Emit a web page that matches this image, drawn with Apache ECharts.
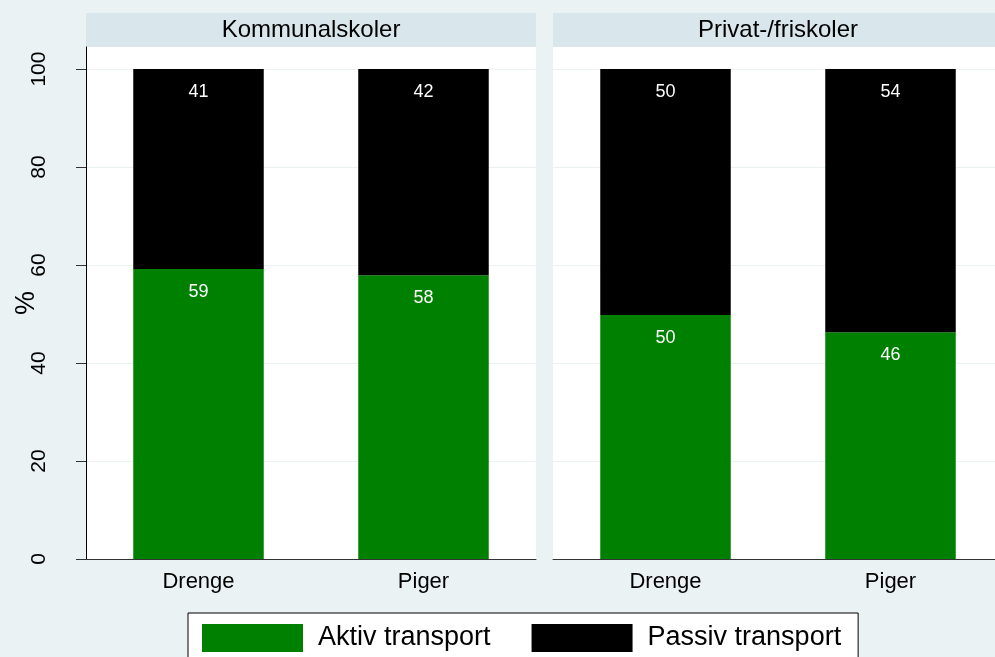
<!DOCTYPE html>
<html>
<head>
<meta charset="utf-8">
<script src="https://cdn.jsdelivr.net/npm/echarts@6/dist/echarts.min.js"></script>
<style>
html,body{margin:0;padding:0;background:#EAF2F3;}
#c{width:995px;height:657px;}
</style>
</head>
<body>
<div id="c"></div>
<script>
const categories = ['Drenge', 'Piger'];
const panels = ['Kommunalskoler', 'Privat-/friskoler'];
const seriesNames = ['Aktiv transport', 'Passiv transport'];
const aktivKommunal = [59.2, 57.9];
const passivKommunal = [40.8, 42.1];
const aktivPrivat = [49.8, 46.3];
const passivPrivat = [50.2, 53.7];
const yTicks = [0, 20, 40, 60, 80, 100];

const FONT = 'Liberation Sans, Arial, Helvetica, sans-serif';
const GREEN = '#008000';
const BLACK = '#000000';

const chart = echarts.init(document.getElementById('c'), null, {renderer: 'canvas'});

const gridBase = {top: 47, bottom: 98, width: 450, show: true, backgroundColor: '#ffffff', borderWidth: 0,
  containLabel: false, outerBoundsMode: 'none'};

function xAxis(gi) {
  return {
    type: 'category', gridIndex: gi, data: categories,
    axisLine: {show: true, lineStyle: {color: '#333333', width: 1}},
    axisTick: {show: false},
    axisLabel: {fontFamily: FONT, fontSize: 22, color: '#000', margin: 12}
  };
}
function yAxis(gi, showLabels) {
  return {
    type: 'value', gridIndex: gi, min: 0, max: 104.5,
    name: showLabels ? '%' : '', nameLocation: 'middle', nameRotate: 90, nameGap: 46, nameMoveOverlap: false,
    nameTextStyle: {fontFamily: FONT, fontSize: 27, color: '#000'},
    axisLine: {show: showLabels, lineStyle: {color: '#000', width: 1}},
    axisTick: {show: showLabels, length: 10, customValues: yTicks, lineStyle: {color: '#333', width: 1}},
    axisLabel: {show: showLabels, customValues: yTicks, rotate: 90, fontFamily: FONT, fontSize: 21, color: '#000', margin: 36},
    splitLine: {show: true, lineStyle: {color: '#EAF2F3', width: 1}}
  };
}
function barSeries(name, data, gi, stack, color) {
  return {
    name: name, type: 'bar', xAxisIndex: gi, yAxisIndex: gi, stack: stack,
    data: data, barWidth: '58%',
    itemStyle: {color: color},
    label: {show: true, position: 'insideTop', distance: 14, color: '#fff', fontFamily: FONT, fontSize: 18,
      formatter: p => Math.round(p.value)}
  };
}

const option = {
  animation: false,
  backgroundColor: '#EAF2F3',
  grid: [
    Object.assign({left: 86}, gridBase),
    Object.assign({left: 553}, gridBase)
  ],
  xAxis: [xAxis(0), xAxis(1)],
  yAxis: [yAxis(0, true), yAxis(1, false)],
  legend: {
    left: 188, top: 613, orient: 'horizontal',
    data: seriesNames,
    icon: 'rect', itemWidth: 101, itemHeight: 28, itemGap: 41,
    padding: [11, 17, 11, 14],
    backgroundColor: '#ffffff', borderColor: '#000', borderWidth: 1,
    textStyle: {fontFamily: FONT, fontSize: 27, color: '#000', padding: [0, 0, 0, 10]}
  },
  graphic: [
    {type: 'rect', shape: {x: 86, y: 13, width: 450, height: 34}, style: {fill: '#D9E6EB'}, silent: true},
    {type: 'rect', shape: {x: 553, y: 13, width: 460, height: 34}, style: {fill: '#D9E6EB'}, silent: true},
    {type: 'text', x: 311, y: 30, style: {text: panels[0], fill: '#000', font: '24px ' + FONT, textAlign: 'center', textVerticalAlign: 'middle'}, silent: true},
    {type: 'text', x: 778, y: 30, style: {text: panels[1], fill: '#000', font: '24px ' + FONT, textAlign: 'center', textVerticalAlign: 'middle'}, silent: true}
  ],
  series: [
    barSeries(seriesNames[0], aktivKommunal, 0, 'k', GREEN),
    barSeries(seriesNames[1], passivKommunal, 0, 'k', BLACK),
    barSeries(seriesNames[0], aktivPrivat, 1, 'p', GREEN),
    barSeries(seriesNames[1], passivPrivat, 1, 'p', BLACK)
  ]
};
chart.setOption(option);
</script>
</body>
</html>
